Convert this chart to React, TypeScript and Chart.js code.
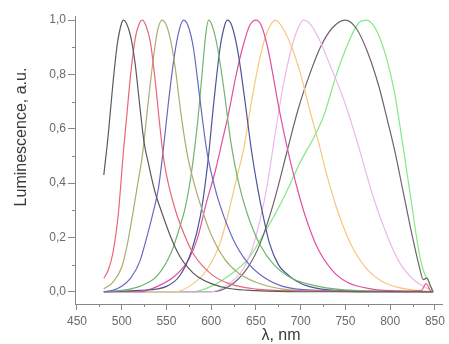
import React, { useEffect, useRef } from "react";
import { Chart, registerables } from "chart.js";

Chart.register(...registerables);

// ---- axis ticks / titles ----
const xTicks = [450, 500, 550, 600, 650, 700, 750, 800, 850];
const xMinorTicks = [475, 525, 575, 625, 675, 725, 775, 825];
const yTicks = [0, 0.2, 0.4, 0.6, 0.8, 1.0];
const yMinorTicks = [0.1, 0.3, 0.5, 0.7, 0.9];
const xTitle = "λ, nm";
const yTitle = "Luminescence, a.u.";

// ---- spectra (wavelength, nm / normalized luminescence) ----
const wl1 = [480, 485, 490, 495, 500, 502, 505, 510, 515, 520, 525, 530, 537, 545, 555, 565, 575, 585, 600, 620, 650, 700, 760, 820, 848];
const lum1 = [0.43, 0.58, 0.76, 0.91, 0.99, 1.0, 0.99, 0.94, 0.84, 0.69, 0.55, 0.47, 0.37, 0.29, 0.2, 0.13, 0.085, 0.055, 0.03, 0.012, 0.004, 0, 0, 0, 0];

const wl2 = [480, 485, 490, 496, 502, 506, 510, 515, 520, 523, 527, 532, 537, 542, 546, 550, 560, 570, 580, 600, 620, 650, 700, 780, 835, 840, 845, 848];
const lum2 = [0.05, 0.08, 0.14, 0.28, 0.52, 0.66, 0.8, 0.93, 0.99, 1.0, 0.98, 0.92, 0.79, 0.63, 0.51, 0.43, 0.3, 0.21, 0.14, 0.065, 0.03, 0.01, 0.003, 0, 0.005, 0.03, 0.005, 0];

const wl3 = [480, 490, 500, 506, 512, 518, 523, 530, 535, 540, 545, 550, 555, 560, 566, 573, 580, 590, 600, 615, 630, 650, 680, 720, 800, 848];
const lum3 = [0.01, 0.035, 0.09, 0.17, 0.28, 0.4, 0.5, 0.71, 0.85, 0.96, 1.0, 0.98, 0.92, 0.82, 0.66, 0.51, 0.41, 0.3, 0.21, 0.12, 0.07, 0.035, 0.01, 0.003, 0, 0];

const wl4 = [480, 490, 500, 510, 520, 528, 535, 541, 546, 552, 558, 564, 569, 574, 580, 587, 595, 606, 615, 625, 640, 658, 680, 720, 800, 848];
const lum4 = [0, 0.005, 0.02, 0.05, 0.11, 0.2, 0.29, 0.38, 0.51, 0.69, 0.85, 0.96, 1.0, 0.98, 0.9, 0.72, 0.52, 0.36, 0.27, 0.19, 0.11, 0.055, 0.02, 0.005, 0, 0];

const wl5 = [480, 500, 520, 540, 556, 565, 571, 578, 585, 590, 594, 597, 601, 607, 614, 622, 630, 640, 655, 670, 690, 720, 760, 848];
const lum5 = [0, 0.005, 0.02, 0.06, 0.15, 0.24, 0.31, 0.44, 0.63, 0.81, 0.95, 1.0, 0.98, 0.9, 0.75, 0.55, 0.41, 0.29, 0.17, 0.1, 0.05, 0.02, 0.005, 0];

const wl6 = [480, 520, 550, 565, 578, 588, 596, 603, 610, 615, 618, 623, 630, 637, 645, 652, 658, 665, 675, 683, 695, 709, 740, 848];
const lum6 = [0, 0.005, 0.02, 0.06, 0.15, 0.28, 0.47, 0.7, 0.9, 0.98, 1.0, 0.98, 0.88, 0.72, 0.52, 0.38, 0.28, 0.18, 0.1, 0.07, 0.04, 0.02, 0.005, 0];

const wl7 = [480, 520, 540, 560, 575, 585, 594, 605, 612, 619, 628, 636, 643, 650, 656, 663, 670, 676, 687, 697, 705, 719, 735, 752, 780, 820, 848];
const lum7 = [0, 0, 0.02, 0.06, 0.12, 0.2, 0.32, 0.45, 0.55, 0.65, 0.8, 0.91, 0.98, 1.0, 0.98, 0.9, 0.78, 0.67, 0.5, 0.37, 0.28, 0.16, 0.08, 0.035, 0.01, 0.002, 0];

const wl8 = [480, 560, 580, 595, 610, 620, 630, 636, 645, 655, 663, 672, 680, 690, 700, 710, 720, 730, 740, 750, 760, 775, 790, 810, 830, 848];
const lum8 = [0, 0, 0.03, 0.08, 0.18, 0.3, 0.44, 0.52, 0.7, 0.87, 0.96, 1.0, 0.97, 0.9, 0.8, 0.67, 0.55, 0.42, 0.31, 0.22, 0.15, 0.08, 0.04, 0.015, 0.005, 0];

const wl9 = [480, 600, 620, 635, 645, 655, 663, 670, 680, 690, 697, 703, 712, 722, 732, 742, 752, 766, 780, 795, 810, 826, 840, 848];
const lum9 = [0, 0, 0.03, 0.08, 0.15, 0.27, 0.4, 0.55, 0.75, 0.9, 0.97, 1.0, 0.98, 0.92, 0.84, 0.76, 0.67, 0.52, 0.36, 0.22, 0.11, 0.045, 0.015, 0];

const wl10 = [480, 600, 620, 641, 655, 670, 685, 697, 710, 722, 735, 750, 762, 775, 787, 797, 805, 815, 825, 832, 837, 841, 845, 848];
const lum10 = [0, 0, 0.02, 0.09, 0.18, 0.33, 0.52, 0.67, 0.8, 0.9, 0.97, 1.0, 0.97, 0.88, 0.76, 0.63, 0.52, 0.36, 0.2, 0.1, 0.045, 0.05, 0.02, 0];

const wl11 = [480, 580, 600, 620, 641, 660, 680, 700, 715, 726, 740, 755, 765, 774, 785, 795, 805, 810, 816, 825, 832, 838, 843, 848];
const lum11 = [0, 0, 0.02, 0.06, 0.12, 0.22, 0.34, 0.48, 0.57, 0.65, 0.8, 0.93, 0.99, 1.0, 0.96, 0.87, 0.73, 0.63, 0.5, 0.3, 0.15, 0.07, 0.04, 0];

const seriesX = [wl1, wl2, wl3, wl4, wl5, wl6, wl7, wl8, wl9, wl10, wl11];
const seriesY = [lum1, lum2, lum3, lum4, lum5, lum6, lum7, lum8, lum9, lum10, lum11];
const seriesColors = [
  "#5a5a5a", "#ec6478", "#acac70", "#6868c0", "#70b470", "#4c5696",
  "#e0509e", "#f5c87c", "#ecb8ec", "#6e626e", "#84e884",
];

const FONT = '"Liberation Sans", Arial, sans-serif';
const AXIS_COLOR = "#888888";
const TICK_COLOR = "#6a6a6a";
const TITLE_COLOR = "#3a3a3a";

const axisDecor = {
  id: "axisDecor",
  afterDraw(chart: any) {
    const { ctx } = chart;
    const xs = chart.scales.x;
    const ys = chart.scales.y;
    ctx.save();
    ctx.strokeStyle = AXIS_COLOR;
    ctx.lineWidth = 1;
    ctx.beginPath();
    for (const v of xMinorTicks) {
      const px = Math.round(xs.getPixelForValue(v)) + 0.5;
      ctx.moveTo(px, ys.bottom);
      ctx.lineTo(px, ys.bottom + 3);
    }
    for (const v of yMinorTicks) {
      const py = Math.round(ys.getPixelForValue(v)) + 0.5;
      ctx.moveTo(xs.left, py);
      ctx.lineTo(xs.left - 3, py);
    }
    ctx.stroke();

    ctx.fillStyle = TITLE_COLOR;
    ctx.font = "16px " + FONT;
    ctx.textAlign = "center";
    ctx.textBaseline = "middle";
    ctx.fillText(xTitle, 281, 336);
    ctx.translate(22, 137);
    ctx.rotate(-Math.PI / 2);
    ctx.fillText(yTitle, 0, 0);
    ctx.restore();
  },
};

export default function App() {
  const ref = useRef<HTMLCanvasElement | null>(null);

  useEffect(() => {
    if (!ref.current) return;
    const datasets = seriesX.map((xs, i) => ({
      data: xs.map((x, j) => ({ x, y: seriesY[i][j] })),
      borderColor: seriesColors[i],
      backgroundColor: seriesColors[i],
      borderWidth: 1.2,
      pointRadius: 0,
      fill: false,
      cubicInterpolationMode: "monotone" as const,
    }));

    const chart = new Chart(ref.current, {
      type: "line",
      data: { datasets },
      plugins: [axisDecor],
      options: {
        animation: false,
        responsive: false,
        devicePixelRatio: 1,
        layout: { padding: { top: 16, right: 3, left: 0, bottom: 0 } },
        plugins: {
          legend: { display: false },
          tooltip: { enabled: false },
          title: { display: false },
        },
        scales: {
          x: {
            type: "linear",
            min: 447.8,
            max: 858.2,
            afterFit: (s: any) => { s.height = 40; },
            afterBuildTicks: (s: any) => { s.ticks = xTicks.map((v) => ({ value: v })); },
            ticks: {
              font: { family: FONT, size: 12 },
              color: TICK_COLOR,
              padding: 4,
              maxRotation: 0,
              autoSkip: false,
              callback: (v: any) => String(v),
            },
            grid: { display: true, drawOnChartArea: false, tickLength: 6, color: AXIS_COLOR },
            border: { display: true, color: AXIS_COLOR },
            title: { display: false },
          },
          y: {
            type: "linear",
            min: -0.045,
            max: 1.015,
            afterFit: (s: any) => { s.width = 75; },
            afterBuildTicks: (s: any) => { s.ticks = yTicks.map((v) => ({ value: v })); },
            ticks: {
              font: { family: FONT, size: 12 },
              color: TICK_COLOR,
              padding: 2,
              autoSkip: false,
              callback: (v: any) => Number(v).toFixed(1).replace(".", ","),
            },
            grid: { display: true, drawOnChartArea: false, tickLength: 7, color: AXIS_COLOR },
            border: { display: true, color: AXIS_COLOR },
            title: { display: false },
          },
        },
      },
    });
    return () => chart.destroy();
  }, []);

  return (
    <div style={{ position: "absolute", left: 0, top: 0, width: 449, height: 344, background: "#fff" }}>
      <canvas ref={ref} width={449} height={344} style={{ display: "block" }} />
    </div>
  );
}
